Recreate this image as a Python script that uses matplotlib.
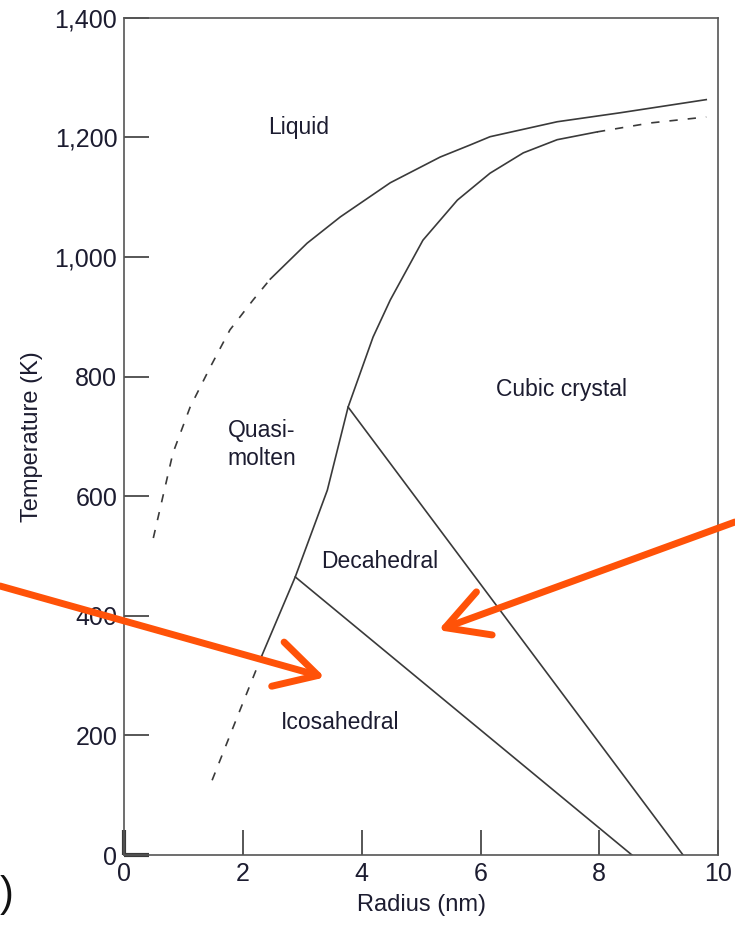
import matplotlib
matplotlib.use("Agg")
import matplotlib.pyplot as plt
from matplotlib.ticker import FuncFormatter

plt.rcParams['font.family'] = ['Liberation Sans', 'DejaVu Sans']

# liquid / solid boundary (dashed part then solid part)
liq_dash_x = [0.49, 0.82, 1.11, 1.45, 1.78, 2.17, 2.46]
liq_dash_y = [530, 672, 749, 816, 878, 928, 963]
liq_x = [2.46, 3.08, 3.64, 4.48, 5.32, 5.82, 6.16, 7.29, 8.35, 9.80]
liq_y = [963, 1023, 1067, 1124, 1167, 1187, 1201, 1226, 1241, 1263]

# quasi-molten / crystal boundary
qm_dash_lo_x = [1.48, 1.90, 2.32]
qm_dash_lo_y = [125, 230, 334]
qm_x = [2.32, 2.88, 3.42, 3.77, 4.19, 4.48, 5.03, 5.61, 6.16, 6.72, 7.29, 7.96]
qm_y = [334, 465, 610, 749, 866, 928, 1028, 1095, 1140, 1174, 1196, 1209]
qm_dash_hi_x = [7.96, 8.86, 9.80]
qm_dash_hi_y = [1209, 1224, 1234]

# icosahedral / decahedral and decahedral / cubic boundaries
ico_x = [2.88, 8.55]
ico_y = [465, 0]
dec_x = [3.77, 9.41]
dec_y = [749, 0]

labels = ["Liquid", "Quasi-\nmolten", "Cubic crystal", "Decahedral", "Icosahedral"]
label_x = [2.93, 2.32, 7.37, 4.31, 3.64]
label_y = [1216, 686, 778, 490, 222]

xticks = [0, 2, 4, 6, 8, 10]
yticks = [0, 200, 400, 600, 800, 1000, 1200, 1400]

line_col = "#3a3a3a"
text_col = "#1c1c30"
orange = "#ff5208"

fig = plt.figure(figsize=(7.35, 9.31), dpi=100)
ax = fig.add_axes([0.169, 0.0816, 0.808, 0.8994])

dash = (0, (5, 6))
ax.plot(liq_dash_x, liq_dash_y, color=line_col, lw=1.2, ls=dash)
ax.plot(liq_x, liq_y, color=line_col, lw=1.2)
ax.plot(qm_dash_lo_x, qm_dash_lo_y, color=line_col, lw=1.2, ls=dash)
ax.plot(qm_x, qm_y, color=line_col, lw=1.2)
ax.plot(qm_dash_hi_x, qm_dash_hi_y, color=line_col, lw=1.2, ls=dash)
ax.plot(ico_x, ico_y, color=line_col, lw=1.2)
ax.plot(dec_x, dec_y, color=line_col, lw=1.2)

for txt, x, y in zip(labels, label_x, label_y):
    ax.text(x, y, txt, ha="center", va="center", fontsize=16.5, color=text_col,
            linespacing=1.25)

ax.set_xlim(0, 10)
ax.set_ylim(0, 1400)
ax.set_xticks(xticks)
ax.set_yticks(yticks)
ax.yaxis.set_major_formatter(FuncFormatter(lambda v, p: f"{int(v):,}"))
ax.tick_params(direction="in", length=18, width=1.2, color=line_col,
               labelsize=18, labelcolor=text_col, pad=5)
for s in ax.spines.values():
    s.set_color("#555555")
    s.set_linewidth(1.2)

# the corner ticks are drawn heavier in the original
ax.xaxis.get_major_ticks()[0].tick1line.set_markeredgewidth(3)
ax.yaxis.get_major_ticks()[0].tick1line.set_markeredgewidth(3)
ax.xaxis.get_major_ticks()[0].tick1line.set_color("#111111")
ax.yaxis.get_major_ticks()[0].tick1line.set_color("#111111")

ax.set_xlabel("Radius (nm)", fontsize=17, labelpad=6, color=text_col)
ax.set_ylabel("Temperature (K)", fontsize=17, labelpad=8, color=text_col)

# orange arrows pointing into the diagram
arrow = dict(arrowstyle="->,head_length=1.0,head_width=0.55",
             color=orange, lw=5, mutation_scale=30, shrinkA=0, shrinkB=0)
ax.annotate("", xy=(3.38, 297), xycoords="data",
            xytext=(0.0, 1 - 586 / 931), textcoords="figure fraction",
            arrowprops=arrow, annotation_clip=False)
ax.annotate("", xy=(5.29, 376), xycoords="data",
            xytext=(1.0, 1 - 522 / 931), textcoords="figure fraction",
            arrowprops=arrow, annotation_clip=False)

# closing bracket of the panel letter at the left edge
fig.text(0.0, 1 - 895 / 931, ")", fontsize=30, ha="left", va="center",
         color="#111111")

fig.savefig("out.png", dpi=100)
